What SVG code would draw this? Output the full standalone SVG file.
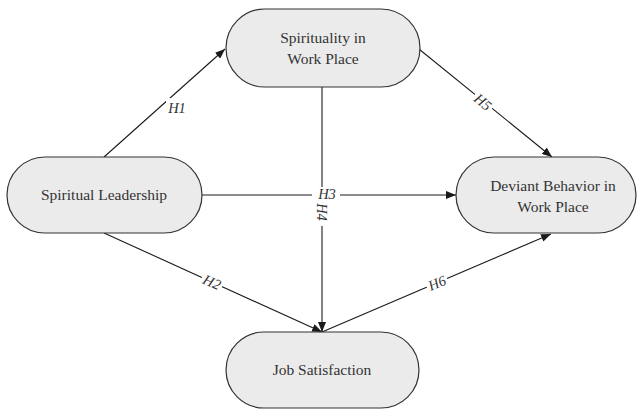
<svg xmlns="http://www.w3.org/2000/svg" width="640" height="409" viewBox="0 0 640 409">
<defs>
<marker id="arr" viewBox="0 0 10 8" refX="10" refY="4" markerWidth="10" markerHeight="8" markerUnits="userSpaceOnUse" orient="auto">
<path d="M0,0 L10,4 L0,8 Z" fill="#1a1a1a"/>
</marker>
<style>
.node rect{fill:#ebebeb;stroke:#333;stroke-width:1.2}
.node text{font-family:"Liberation Serif","Times New Roman",serif;font-size:15.5px;fill:#333;text-anchor:middle}
.edges line{stroke:#1a1a1a;stroke-width:1.1;fill:none}
.lbl{font-family:"Liberation Serif","Times New Roman",serif;font-size:14.5px;font-style:italic;fill:#333;text-anchor:middle}
.bg{fill:#fff}
</style>
</defs>
<rect width="640" height="409" fill="#fff"/>
<g class="edges">
<line x1="104" y1="157" x2="225" y2="49" marker-end="url(#arr)"/>
<line x1="414" y1="45" x2="552" y2="157" marker-end="url(#arr)"/>
<line x1="202" y1="195" x2="456" y2="195" marker-end="url(#arr)"/>
<line x1="322" y1="87" x2="322" y2="332" marker-end="url(#arr)"/>
<line x1="104" y1="233" x2="322" y2="332" marker-end="url(#arr)"/>
<line x1="322" y1="332" x2="551" y2="234" marker-end="url(#arr)"/>
<rect class="bg" x="166" y="98" width="22" height="16"/>
<rect class="bg" x="312" y="187" width="28" height="15"/>
<rect class="bg" x="315" y="198" width="14" height="28"/>
<g transform="translate(483,102) rotate(39)"><rect class="bg" x="-11" y="-8" width="22" height="16"/><text class="lbl" y="5">H5</text></g>
<g transform="translate(212,282) rotate(24.5)"><rect class="bg" x="-11" y="-8" width="22" height="16"/><text class="lbl" y="5">H2</text></g>
<g transform="translate(437,283) rotate(-23)"><rect class="bg" x="-11" y="-8" width="22" height="16"/><text class="lbl" y="5">H6</text></g>
<text class="lbl" x="177" y="113">H1</text>
<text class="lbl" x="327" y="199">H3</text>
<g transform="translate(322,212) rotate(90)"><text class="lbl" y="5">H4</text></g>
</g>
<g id="spirituality" class="node">
<rect x="226" y="9" width="194" height="78" rx="39" ry="39"/>
<text x="323" y="43">Spirituality in</text>
<text x="323" y="64">Work Place</text>
</g>
<g id="leadership" class="node">
<rect x="7" y="157" width="195" height="76" rx="38" ry="38"/>
<text x="104" y="200">Spiritual Leadership</text>
</g>
<g id="deviant" class="node">
<rect x="456" y="157" width="180" height="76" rx="38" ry="38"/>
<text x="553" y="191">Deviant Behavior in</text>
<text x="553" y="212">Work Place</text>
</g>
<g id="job" class="node">
<rect x="226" y="332" width="193" height="76" rx="38" ry="38"/>
<text x="322" y="375">Job Satisfaction</text>
</g>
</svg>
